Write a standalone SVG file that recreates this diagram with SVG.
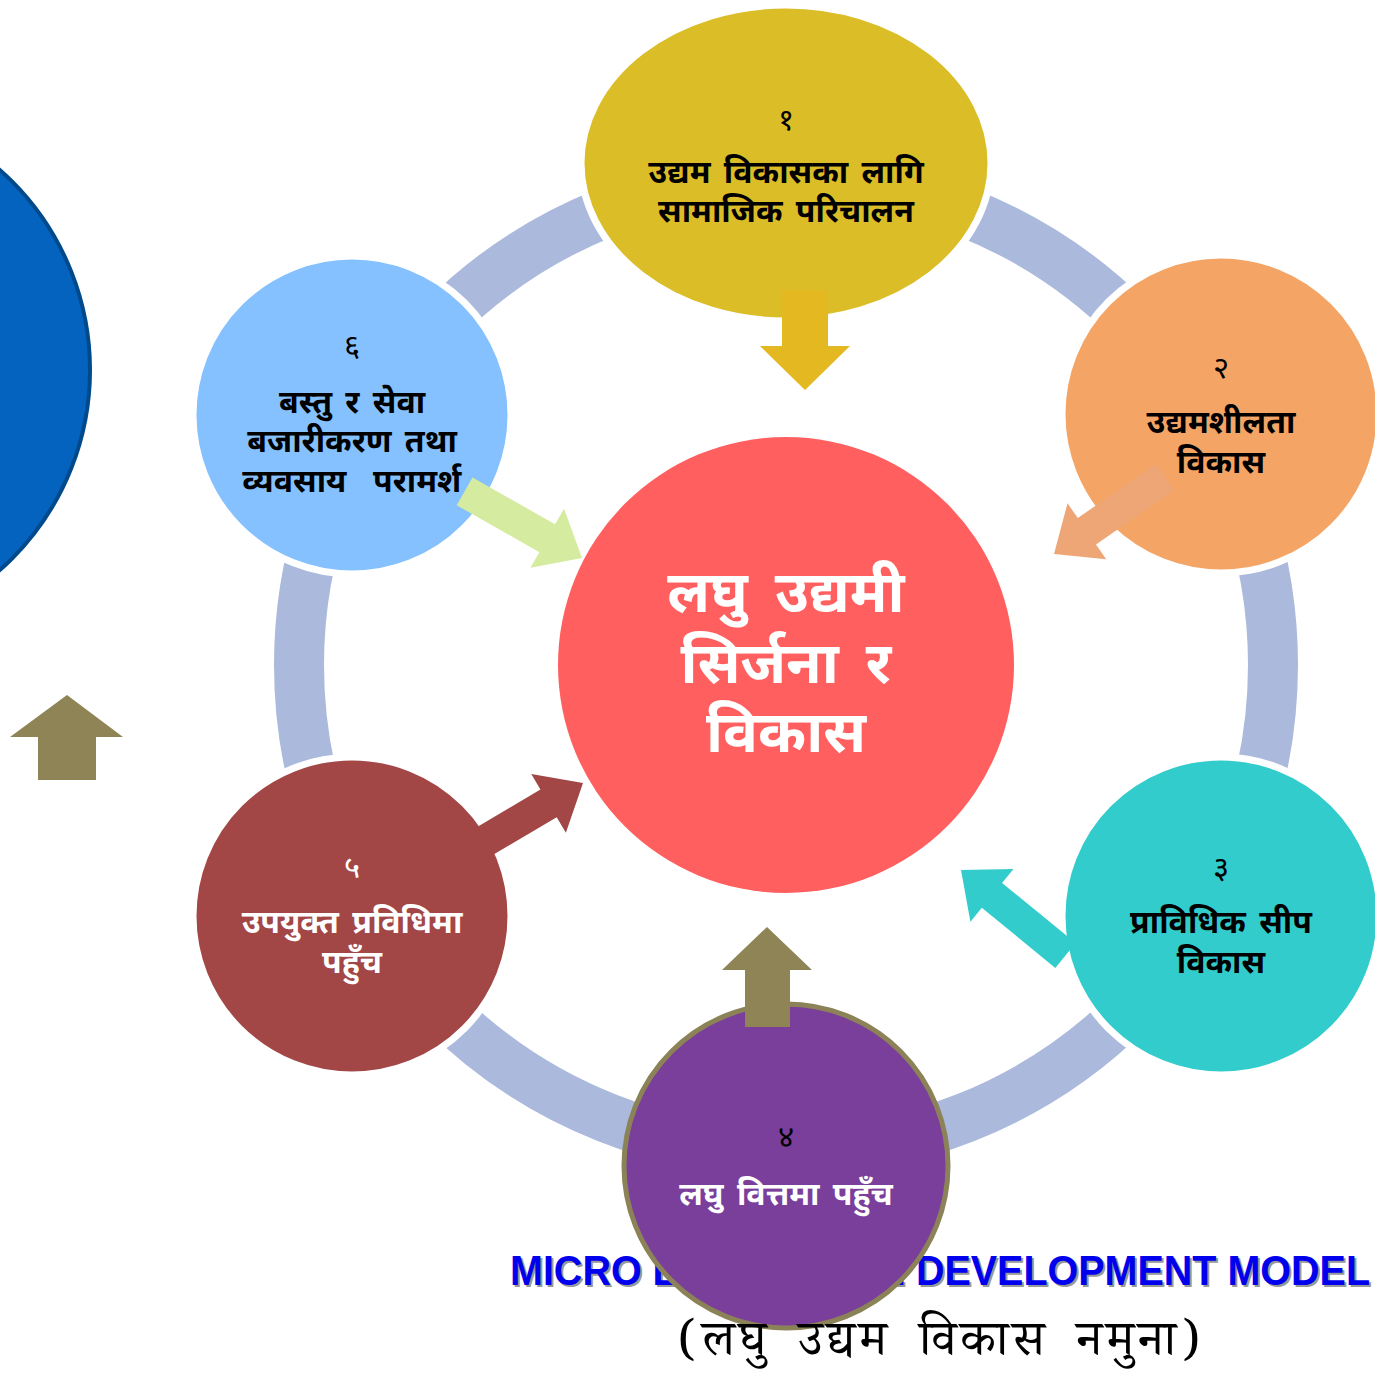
<svg xmlns="http://www.w3.org/2000/svg" width="1375" height="1377" viewBox="0 0 1375 1377">
<style>
.dv{font-family:"Noto Sans Devanagari","Lohit Devanagari","Noto Sans","Liberation Sans",sans-serif;text-anchor:middle;font-weight:bold}
.num{font-size:31px;font-weight:normal}
.lbl{font-size:32px;word-spacing:5px}
.ctr{font-size:58px;word-spacing:12px}
.blk{fill:#000}
.wht{fill:#fff}
.node{stroke:#fff;stroke-width:7}
.arw{stroke:none}
</style>
<rect width="1375" height="1377" fill="#fff"/>
<g id="left-circle"><circle cx="-177" cy="370" r="267" fill="#0563C0" stroke="#004A8C" stroke-width="4"/></g>
<g id="left-arrow"><polygon points="38,780 38,737 10,737 67,695 123,737 96,737 96,780" fill="#8F8455"/></g>
<g id="ring"><circle cx="786" cy="665" r="487" fill="none" stroke="#AAB9DC" stroke-width="50"/></g>
<g id="title">
<text x="512" y="1287" font-family="Liberation Sans,Arial,sans-serif" font-weight="bold" font-size="42" fill="#999" textLength="860" lengthAdjust="spacingAndGlyphs">MICRO ENTERPRISE DEVELOPMENT MODEL</text>
<text x="510" y="1285" font-family="Liberation Sans,Arial,sans-serif" font-weight="bold" font-size="42" fill="#0000EE" textLength="860" lengthAdjust="spacingAndGlyphs">MICRO ENTERPRISE DEVELOPMENT MODEL</text>
</g>
<g id="node1"><ellipse class="node" cx="786" cy="163" rx="205" ry="158" fill="#DBBD27"/>
<text class="dv num blk" x="786" y="130">१</text>
<text class="dv lbl blk" x="786" y="183">उद्यम विकासका लागि</text>
<text class="dv lbl blk" x="786" y="222">सामाजिक परिचालन</text></g>
<g id="node2"><circle class="node" cx="1221" cy="414" r="159" fill="#F4A566"/>
<text class="dv num blk" x="1221" y="378">२</text>
<text class="dv lbl blk" x="1221" y="433">उद्यमशीलता</text>
<text class="dv lbl blk" x="1221" y="473">विकास</text></g>
<g id="node3"><circle class="node" cx="1221" cy="916" r="159" fill="#33CCCC"/>
<text class="dv num blk" x="1221" y="878">३</text>
<text class="dv lbl blk" x="1221" y="933">प्राविधिक सीप</text>
<text class="dv lbl blk" x="1221" y="973">विकास</text></g>
<g id="node4"><circle cx="786" cy="1166" r="162" fill="#7A3F9A" stroke="#8C8257" stroke-width="5"/>
<text class="dv num blk" x="786" y="1147">४</text>
<text class="dv lbl wht" x="786" y="1205">लघु वित्तमा पहुँच</text></g>
<g id="node5"><circle class="node" cx="352" cy="916" r="159" fill="#A24646"/>
<text class="dv num wht" x="352" y="878">५</text>
<text class="dv lbl wht" x="352" y="933">उपयुक्त प्रविधिमा</text>
<text class="dv lbl wht" x="352" y="973">पहुँच</text></g>
<g id="node6"><circle class="node" cx="352" cy="415" r="159" fill="#85C1FF"/>
<text class="dv num blk" x="352" y="356">६</text>
<text class="dv lbl blk" x="352" y="413">बस्तु र सेवा</text>
<text class="dv lbl blk" x="352" y="452">बजारीकरण तथा</text>
<text class="dv lbl blk" x="352" y="492" xml:space="preserve">व्यवसाय  परामर्श</text></g>
<g id="center"><circle cx="786" cy="665" r="228" fill="#FF5F5F"/>
<text class="dv ctr wht" x="786" y="612">लघु उद्यमी</text>
<text class="dv ctr wht" x="786" y="683">सिर्जना र</text>
<text class="dv ctr wht" x="786" y="752">विकास</text></g>
<g id="connectors">
<polygon class="arw" points="782,290 828,290 828,346 850,346 805,390 760,346 782,346" fill="#E3B820"/>
<polygon class="arw" points="-135,-16 -40,-16 -40,-34 0,0 -40,34 -40,16 -135,16" fill="#D5EBA0" transform="translate(582,558) rotate(29.6)"/>
<polygon class="arw" points="-135,-16 -40,-16 -40,-34 0,0 -40,34 -40,16 -135,16" fill="#EFA677" transform="translate(1054,554) rotate(145.3)"/>
<polygon class="arw" points="-135,-16 -40,-16 -40,-34 0,0 -40,34 -40,16 -135,16" fill="#33CCCC" transform="translate(961,870) rotate(219.3)"/>
<polygon class="arw" points="-135,-16 -40,-16 -40,-34 0,0 -40,34 -40,16 -135,16" fill="#A24646" transform="translate(583,783) rotate(-30.6)"/>
<polygon class="arw" points="745,1027 745,970 722,970 767,927 812,970 790,970 790,1027" fill="#8F8455"/>
</g>
<g id="subtitle"><text x="941" y="1355" font-family="Noto Serif Devanagari,Noto Sans Devanagari,Liberation Serif,serif" font-size="50" text-anchor="middle" fill="#000" letter-spacing="4" word-spacing="11">(लघु उद्यम विकास नमुना)</text></g>
</svg>
